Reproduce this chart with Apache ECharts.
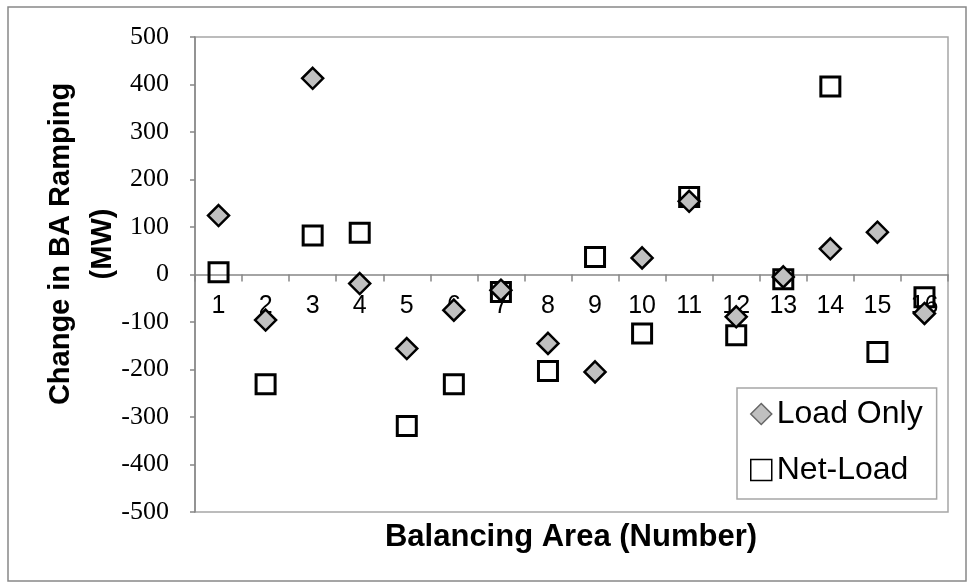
<!DOCTYPE html>
<html>
<head>
<meta charset="utf-8">
<script src="https://cdn.jsdelivr.net/npm/echarts@6/dist/echarts.min.js"></script>
<style>
  html, body { margin: 0; padding: 0; background: #fff; }
  #chart { width: 969px; height: 584px; }
</style>
</head>
<body>
<div id="chart"></div>
<script>
// Balancing areas along the x axis
const areas = ['1','2','3','4','5','6','7','8','9','10','11','12','13','14','15','16'];
// Change in BA ramping (MW), load only
const loadOnly = [124, -96, 413, -19, -156, -75, -33, -145, -205, 35, 154, -89, -5, 54, 89, -82];
// Change in BA ramping (MW), net load
const netLoad = [5, -231, 82, 88, -319, -231, -37, -203, 37, -124, 163, -128, -10, 396, -163, -48];
// Value axis range and step
const yMin = -500, yMax = 500, yStep = 100;

const chart = echarts.init(document.getElementById('chart'), null, { renderer: 'canvas' });

const axisGray = '#868686';
const sans = '"Liberation Sans", Arial, sans-serif';
const serif = '"Liberation Serif", "Times New Roman", serif';

// Plot box in pixels
const gridTop = 37, gridBottom = 72, gridHeight = 584 - gridTop - gridBottom;
// The category axis sits on the zero line: lift it from the bottom edge
const zeroLift = gridHeight * (0 - yMin) / (yMax - yMin);

chart.setOption({
  animation: false,
  backgroundColor: '#ffffff',
  grid: {
    left: 195, right: 21, top: gridTop, bottom: gridBottom,
    show: true,
    borderColor: '#a6a6a6',
    borderWidth: 1.5,
    backgroundColor: 'transparent'
  },
  xAxis: {
    type: 'category',
    data: areas,
    boundaryGap: true,
    position: 'bottom',
    offset: -zeroLift,
    axisLine: { onZero: false, lineStyle: { color: axisGray, width: 1.5 } },
    axisTick: { show: true, length: 7, inside: false, lineStyle: { color: axisGray, width: 1.5 } },
    axisLabel: { margin: 19, color: '#000', fontFamily: sans, fontSize: 25, interval: 0 },
    splitLine: { show: false }
  },
  yAxis: {
    type: 'value',
    min: yMin, max: yMax, interval: yStep,
    axisLine: { show: true, lineStyle: { color: axisGray, width: 1.5 } },
    axisTick: { show: true, length: 5, inside: false, lineStyle: { color: axisGray, width: 1.5 } },
    axisLabel: { margin: 26, color: '#000', fontFamily: serif, fontSize: 26 },
    splitLine: { show: false }
  },
  legend: {
    orient: 'vertical',
    left: 737, top: 388,
    padding: [10, 14, 13, 13],
    itemWidth: 21, itemHeight: 21,
    itemGap: 24,
    borderColor: '#a6a6a6',
    borderWidth: 1.5,
    backgroundColor: '#fff',
    selectedMode: false,
    textStyle: { color: '#000', fontFamily: sans, fontSize: 32, lineHeight: 31 },
    data: [
      { name: 'Load Only', icon: 'diamond',
        itemStyle: { color: '#c0c0c0', borderColor: '#666', borderWidth: 1.5 } },
      { name: 'Net-Load', icon: 'rect',
        itemStyle: { color: '#fff', borderColor: '#000', borderWidth: 1.5 } }
    ]
  },
  series: [
    {
      name: 'Load Only',
      type: 'scatter',
      data: loadOnly,
      symbol: 'diamond',
      symbolSize: 21,
      itemStyle: { color: '#c0c0c0', borderColor: '#000', borderWidth: 2.5, opacity: 1 },
      emphasis: { disabled: true },
      z: 3
    },
    {
      name: 'Net-Load',
      type: 'scatter',
      data: netLoad,
      symbol: 'rect',
      symbolSize: 19,
      itemStyle: { color: 'rgba(255,255,255,0)', borderColor: '#000', borderWidth: 3, opacity: 1 },
      emphasis: { disabled: true },
      z: 2
    }
  ],
  graphic: [
    {
      type: 'rect',
      shape: { x: 8, y: 7, width: 958, height: 574 },
      style: { fill: 'none', stroke: '#888', lineWidth: 1.5 },
      silent: true, z: -10
    },
    {
      type: 'text',
      x: 571, y: 537,
      style: {
        text: 'Balancing Area (Number)',
        fontFamily: sans, fontWeight: 'bold', fontSize: 31,
        fill: '#000', textAlign: 'center', textVerticalAlign: 'middle'
      },
      silent: true
    },
    {
      type: 'text',
      x: 82, y: 244,
      rotation: Math.PI / 2,
      style: {
        text: 'Change in BA Ramping\n(MW)',
        fontFamily: sans, fontWeight: 'bold', fontSize: 29, lineHeight: 42,
        fill: '#000', textAlign: 'center', textVerticalAlign: 'middle'
      },
      silent: true
    }
  ]
});
</script>
</body>
</html>
